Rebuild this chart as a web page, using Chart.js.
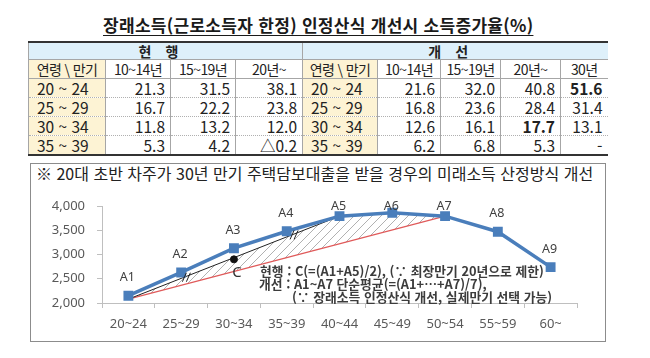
<!DOCTYPE html>
<html lang="ko">
<head>
<meta charset="utf-8">
<script src="https://cdn.jsdelivr.net/npm/chart.js@4.4.1/dist/chart.umd.min.js"></script>
<style>
  html, body { margin: 0; padding: 0; background: #fff; }
  body { width: 650px; height: 358px; position: relative; overflow: hidden; font-family: 'Noto Sans CJK KR', 'Noto Sans', sans-serif; color: #222; }
  .title { position: absolute; left: 103px; top: 12px; font-size: 17px; font-weight: bold; letter-spacing: 0.3px; text-decoration: underline; text-underline-offset: 3px; white-space: nowrap; color: #1a1a1a; }
  table { position: absolute; left: 28px; top: 41px; border-collapse: collapse; table-layout: fixed; border-top: 2px solid #333; border-bottom: 2px solid #333; }
  td { padding: 0 5px; height: 18px; line-height: 18px; font-size: 15.5px; text-align: right; border-left: 1px solid #a6a6a6; border-bottom: 1px dotted #b0b0b0; white-space: nowrap; overflow: hidden; }
  tr.top td { background: #def0fa; text-align: center; font-weight: bold; font-size: 14px; height: 16px; line-height: 16px; letter-spacing: 14px; border-bottom: 1px solid #a6a6a6; }
  tr.head td { text-align: center; font-size: 14px; letter-spacing: -0.6px; border-bottom: 1px solid #a6a6a6; }
  td.age { background: #fdf3d4; text-align: left; padding-left: 8px; }
  tr.head td.age { text-align: center; padding-left: 5px; }
  td.b { font-weight: bold; }
  .box { position: absolute; left: 30px; top: 163px; width: 574px; height: 177px; border: 1.5px solid #8c8c8c; }
  .boxtitle { position: absolute; left: 36px; top: 161px; font-size: 16px; white-space: nowrap; color: #222; }
  .wrap { position: absolute; left: 30px; top: 180px; width: 575px; height: 160px; }
  .note { position: absolute; font-size: 12.8px; font-weight: bold; color: #3c3c3c; white-space: nowrap; line-height: 14px; }
</style>
</head>
<body>
<div class="title">장래소득(근로소득자 한정) 인정산식 개선시 소득증가율(%)</div>
<table id="tbl"></table>

<div class="box"></div>
<div class="boxtitle">※ 20대 초반 차주가 30년 만기 주택담보대출을 받을 경우의 미래소득 산정방식 개선</div>
<div class="wrap"><canvas id="chart"></canvas></div>
<div class="note" style="left:260px; top:264px;">현행 : C(=(A1+A5)/2), (∵ 최장만기 20년으로 제한)</div>
<div class="note" style="left:259px; top:277px;">개선 : A1~A7 단순평균(=(A1+⋯+A7)/7),</div>
<div class="note" style="left:292px; top:290px;">(∵ 장래소득 인정산식 개선, 실제만기 선택 가능)</div>

<script>
// 표 데이터
const ageRows = ['20 ~ 24', '25 ~ 29', '30 ~ 34', '35 ~ 39']
const curTerms = ['10~14년', '15~19년', '20년~']
const newTerms = ['10~14년', '15~19년', '20년~', '30년']
const cur10 = ['21.3', '16.7', '11.8', '5.3']
const cur15 = ['31.5', '22.2', '13.2', '4.2']
const cur20 = ['38.1', '23.8', '12.0', '△0.2']
const new10 = ['21.6', '16.8', '12.6', '6.2']
const new15 = ['32.0', '23.6', '16.1', '6.8']
const new20 = ['40.8', '28.4', '17.7', '5.3']
const new30 = ['51.6', '31.4', '13.1', '-']
const boldCells = ['new30-0', 'new20-2']

// 그래프 데이터
const ageGroups = ['20~24', '25~29', '30~34', '35~39', '40~44', '45~49', '50~54', '55~59', '60~']
const pointNames = ['A1', 'A2', 'A3', 'A4', 'A5', 'A6', 'A7', 'A8', 'A9']
const income = [2150, 2630, 3130, 3480, 3790, 3860, 3790, 3470, 2740]
const currentLine = [2080, null, null, null, 3790, 3860, 3790, null, null]
const improvedLine = [2080, null, null, null, null, null, 3790, null, null]
const cPoint = [null, null, 2900, null, null, null, null, null, null]

/* ===== 표 ===== */
const tbl = document.getElementById('tbl')
const widthsCur = [77, 65, 65, 67]
const widthsNew = [75, 63, 60, 60, 47]
let html = '<colgroup>'
widthsCur.concat(widthsNew).forEach(w => { html += '<col style="width:' + w + 'px">' })
html += '</colgroup>'
html += '<tr class="top"><td colspan="4">현행</td><td colspan="5">개선</td></tr>'
html += '<tr class="head"><td class="age">연령 \\ 만기</td>'
curTerms.forEach(t => { html += '<td>' + t + '</td>' })
html += '<td class="age">연령 \\ 만기</td>'
newTerms.forEach(t => { html += '<td>' + t + '</td>' })
html += '</tr>'
const curCols = [cur10, cur15, cur20]
const newCols = { new10, new15, new20, new30 }
ageRows.forEach((age, i) => {
  html += '<tr><td class="age">' + age + '</td>'
  curCols.forEach(col => { html += '<td>' + col[i] + '</td>' })
  html += '<td class="age">' + age + '</td>'
  Object.keys(newCols).forEach(k => {
    const b = boldCells.includes(k + '-' + i) ? ' class="b"' : ''
    html += '<td' + b + '>' + newCols[k][i] + '</td>'
  })
  html += '</tr>'
})
tbl.innerHTML = html

/* ===== 그래프 ===== */
const blue = '#4a7ebb'

function hatchPattern() {
  const c = document.createElement('canvas')
  c.width = 9; c.height = 9
  const g = c.getContext('2d')
  g.strokeStyle = '#a8a8a8'
  g.lineWidth = 0.9
  g.beginPath()
  g.moveTo(0, 9); g.lineTo(9, 0)
  g.moveTo(-2, 2); g.lineTo(2, -2)
  g.moveTo(7, 11); g.lineTo(11, 7)
  g.stroke()
  return g.createPattern(c, 'repeat')
}

const hatchPlugin = {
  id: 'hatch',
  beforeDatasetsDraw(chart) {
    const ctx = chart.ctx
    const area = chart.chartArea
    const top = chart.getDatasetMeta(1).data.filter(p => !p.skip)
    const low = chart.getDatasetMeta(2).data.filter(p => !p.skip).reverse()
    ctx.save()
    ctx.beginPath()
    ctx.rect(area.left, area.top, area.right - area.left, area.bottom - area.top)
    ctx.clip()
    ctx.beginPath()
    top.concat(low).forEach((p, i) => { i ? ctx.lineTo(p.x, p.y) : ctx.moveTo(p.x, p.y) })
    ctx.closePath()
    ctx.fillStyle = hatchPattern()
    ctx.fill()
    ctx.restore()
  },
  afterDatasetsDraw(chart) {
    const ctx = chart.ctx
    const area = chart.chartArea
    ctx.save()
    ctx.fillStyle = '#404040'
    ctx.font = '12.5px "Noto Sans", sans-serif'
    ctx.textAlign = 'center'
    ctx.textBaseline = 'middle'
    chart.getDatasetMeta(0).data.forEach((p, i) => {
      ctx.fillText(pointNames[i], p.x - 1, Math.max(p.y - 18, area.top))
    })
    // C 표시
    const c = chart.getDatasetMeta(3).data.find(p => !p.skip)
    ctx.font = '15px "Noto Sans", sans-serif'
    ctx.fillStyle = '#333'
    ctx.fillText('C', c.x + 3, c.y + 13)
    // 같은 길이 표시 //
    const bl = chart.getDatasetMeta(1).data.filter(p => !p.skip)
    const a = bl[0], b = bl[1]
    ctx.strokeStyle = '#222'
    ctx.lineWidth = 1
    ;[0.27, 0.78].forEach(t => {
      const x = a.x + (b.x - a.x) * t
      const y = a.y + (b.y - a.y) * t
      ctx.beginPath()
      ctx.moveTo(x - 3, y + 5); ctx.lineTo(x + 1, y - 4)
      ctx.moveTo(x + 1, y + 5); ctx.lineTo(x + 5, y - 4)
      ctx.stroke()
    })
    ctx.restore()
  }
}

Chart.defaults.font.family = "'Noto Sans', 'Noto Sans CJK KR', sans-serif"
Chart.defaults.color = '#595959'

new Chart(document.getElementById('chart'), {
  type: 'line',
  data: {
    labels: ageGroups,
    datasets: [
      {
        data: income,
        borderColor: blue,
        backgroundColor: blue,
        borderWidth: 3.5,
        pointStyle: 'rect',
        pointRadius: 4.5,
        order: 0
      },
      {
        data: currentLine,
        spanGaps: true,
        borderWidth: 1,
        pointRadius: 0,
        borderColor: '#222',
        segment: {
          borderColor: ctx => ctx.p1DataIndex <= 4 ? '#222' : 'rgba(0,0,0,0)'
        },
        order: 2
      },
      {
        data: improvedLine,
        spanGaps: true,
        borderWidth: 1.2,
        pointRadius: 0,
        borderColor: '#e05a5a',
        order: 3
      },
      {
        data: cPoint,
        showLine: false,
        pointRadius: 3.5,
        pointBackgroundColor: '#111',
        pointBorderColor: '#111',
        order: 1
      }
    ]
  },
  options: {
    responsive: true,
    maintainAspectRatio: false,
    animation: false,
    layout: { padding: { top: 26, right: 28, left: 0, bottom: 0 } },
    plugins: { legend: { display: false }, tooltip: { enabled: false } },
    scales: {
      x: {
        offset: true,
        afterFit: s => { s.height = 37 },
        grid: { offset: true, drawOnChartArea: false, tickLength: 5, color: '#bfbfbf' },
        border: { color: '#bfbfbf' },
        ticks: { padding: 8, font: { size: 13 }, maxRotation: 0 }
      },
      y: {
        min: 2000,
        max: 4000,
        afterFit: s => { s.width = 72 },
        grid: { drawOnChartArea: false, tickLength: 5, color: '#bfbfbf' },
        border: { color: '#bfbfbf' },
        ticks: {
          stepSize: 500,
          padding: 12,
          font: { size: 13 },
          callback: v => v.toLocaleString('en-US')
        }
      }
    }
  },
  plugins: [hatchPlugin]
})
</script>
</body>
</html>
